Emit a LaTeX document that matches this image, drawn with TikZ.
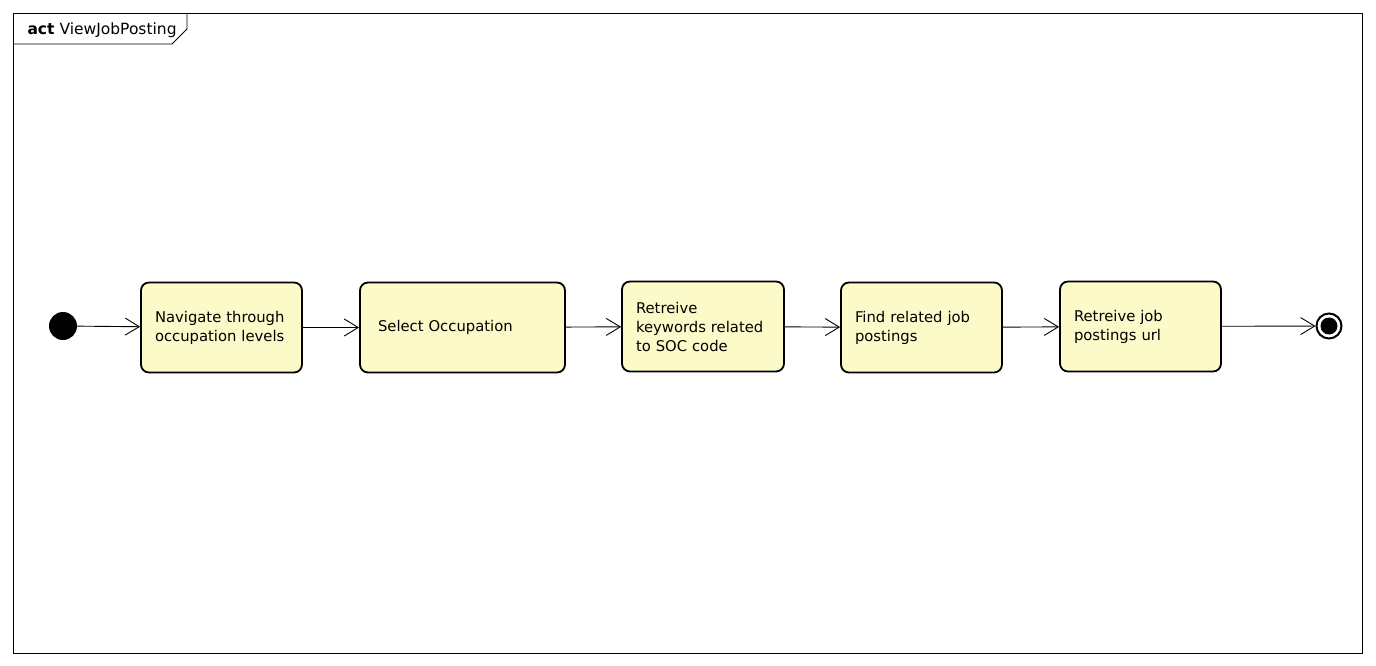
\documentclass[tikz,border=0pt]{standalone}
\usepackage{fontspec}
\setmainfont{DejaVu Sans}
\usetikzlibrary{arrows.meta}
\definecolor{actfill}{RGB}{251,250,200}
\begin{document}
\begin{tikzpicture}[x=1pt,y=-1pt,
  action/.style={shape=rectangle,draw,fill=actfill,rounded corners=8pt,line width=1.8pt,
    minimum height=90pt,inner xsep=14pt,align=left,
    font=\fontsize{14.8}{19}\selectfont},
  flow/.style={-{Straight Barb[length=14pt,width=17pt]},line width=0.9pt}]
\useasboundingbox (0,0) rectangle (1376,666);
\draw[line width=0.9pt] (13,13) rectangle (1362,653);
\draw[line width=0.9pt] (13,44) -- (172,44) -- (187,29) -- (187,13);
\node(title) at (24,30)[anchor=west,font=\fontsize{15.5}{17}\selectfont]{\textbf{act} ViewJobPosting};
\node(start) at (63,326)[shape=circle,fill=black,minimum size=28pt,inner sep=0pt]{};
\node(nav) at (221.5,327.5)[action,text width=133pt]{Navigate through\\occupation levels};
\node(select) at (462.5,327.5)[action,text width=169pt,inner xsep=18pt]{Select Occupation};
\node(keywords) at (703,326.5)[action,text width=134pt]{Retreive\\keywords related\\to SOC code};
\node(find) at (921.5,327.5)[action,text width=133pt]{Find related job\\postings};
\node(url) at (1140.5,326.5)[action,text width=133pt]{Retreive job\\postings url};
\node(stop) at (1329,326)[shape=circle,draw,line width=2pt,minimum size=25pt,inner sep=0pt]{};
\node(stopdot) at (stop)[shape=circle,fill=black,minimum size=17pt,inner sep=0pt]{};
\path [flow]
  (start)    edge   (nav)
  (nav)      edge   (select)
  (select)   edge   (keywords)
  (keywords) edge   (find)
  (find)     edge   (url)
  (url)      edge   (stop);
\end{tikzpicture}
\end{document}
